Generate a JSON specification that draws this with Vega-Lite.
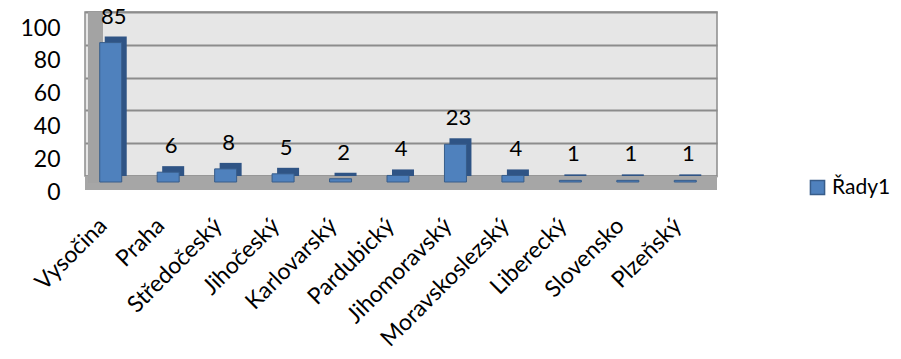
{
  "$schema": "https://vega.github.io/schema/vega-lite/v6.json",
  "width": 632,
  "height": 164,
  "autosize": {"type": "none"},
  "padding": {"left": 85, "top": 12, "right": 184, "bottom": 183},
  "background": "white",
  "config": {
    "font": "Lato",
    "view": {"fill": "#E6E6E6", "stroke": "#8C8C8C", "strokeWidth": 1.5}
  },
  "data": {
    "values": [
      {"kraj": "Vysočina", "pocet": 85},
      {"kraj": "Praha", "pocet": 6},
      {"kraj": "Středočeský", "pocet": 8},
      {"kraj": "Jihočeský", "pocet": 5},
      {"kraj": "Karlovarský", "pocet": 2},
      {"kraj": "Pardubický", "pocet": 4},
      {"kraj": "Jihomoravský", "pocet": 23},
      {"kraj": "Moravskoslezský", "pocet": 4},
      {"kraj": "Liberecký", "pocet": 1},
      {"kraj": "Slovensko", "pocet": 1},
      {"kraj": "Plzeňský", "pocet": 1}
    ]
  },
  "encoding": {
    "x": {
      "field": "kraj",
      "type": "nominal",
      "sort": null,
      "scale": {"paddingInner": 0.6, "paddingOuter": 0.3},
      "axis": {
        "title": null,
        "labelAngle": -45,
        "labelFontSize": 23,
        "labelColor": "#000000",
        "labelPadding": 38,
        "labelOffset": -18,
        "labelOverlap": false,
        "labelLimit": 400,
        "ticks": false,
        "domain": false,
        "grid": false
      }
    }
  },
  "layer": [
    {
      "mark": {"type": "rule", "color": "#A6A6A6", "strokeWidth": 14, "yOffset": 7},
      "encoding": {
        "x": null,
        "y": {
          "datum": 0,
          "type": "quantitative",
          "scale": {"domain": [0, 100]},
          "axis": {
            "title": null,
            "values": [0, 20, 40, 60, 80, 100],
            "tickCount": 10,
            "labelFontSize": 23,
            "labelColor": "#000000",
            "labelPadding": 25,
            "labelOffset": 16,
            "labelOverlap": false,
            "labelFlush": false,
            "ticks": false,
            "domain": false,
            "grid": true,
            "gridColor": "#8C8C8C",
            "gridWidth": 2
          }
        }
      }
    },
    {
      "mark": {"type": "rule", "color": "#A3A3A3", "strokeWidth": 14, "xOffset": -7, "yOffset": 7},
      "encoding": {
        "x": {"datum": "Vysočina", "type": "nominal", "bandPosition": 0},
        "y": {"datum": 0, "type": "quantitative"},
        "y2": {"datum": 100}
      }
    },
    {
      "mark": {"type": "bar", "color": "#2F5485", "size": 22, "xOffset": 2},
      "encoding": {
        "y": {"field": "pocet", "type": "quantitative"}
      }
    },
    {
      "mark": {"type": "bar", "size": 22, "xOffset": -3, "yOffset": 6, "stroke": "#385D8A", "strokeWidth": 1},
      "encoding": {
        "y": {"field": "pocet", "type": "quantitative"},
        "color": {
          "datum": "Řady1",
          "type": "nominal",
          "scale": {"range": ["#4F81BD"]},
          "legend": {
            "title": null,
            "orient": "none",
            "legendX": 722,
            "legendY": 165,
            "symbolType": "square",
            "symbolSize": 200,
            "symbolStrokeColor": "#385D8A",
            "symbolStrokeWidth": 1.5,
            "labelFontSize": 21,
            "labelColor": "#000000"
          }
        }
      }
    },
    {
      "mark": {"type": "text", "baseline": "bottom", "dy": -8, "fontSize": 22, "color": "#000000"},
      "encoding": {
        "y": {"field": "pocet", "type": "quantitative"},
        "text": {"field": "pocet", "type": "quantitative"}
      }
    }
  ]
}
